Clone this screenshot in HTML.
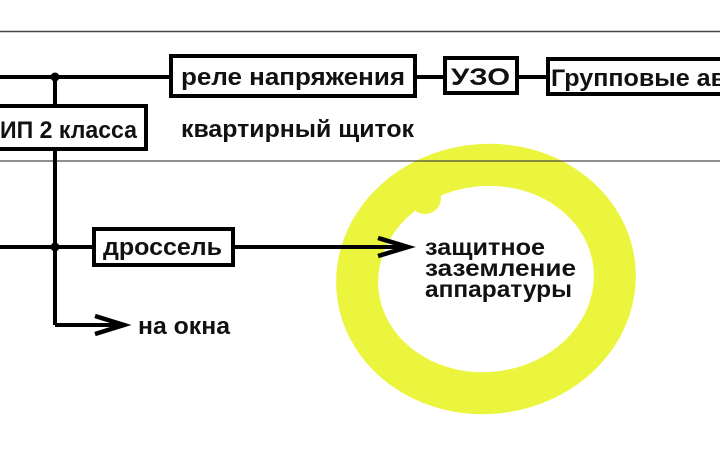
<!DOCTYPE html>
<html><head><meta charset="utf-8"><style>
html,body{margin:0;padding:0;background:#fff;}
svg{display:block}
text{font-family:"Liberation Sans",sans-serif;font-weight:bold;fill:#111;}
</style></head><body>
<svg width="720" height="456" viewBox="0 0 720 456" xmlns="http://www.w3.org/2000/svg">
<rect width="720" height="456" fill="#fff"/>
<line x1="0" y1="31.5" x2="720" y2="31.5" stroke="#444" stroke-width="1.5"/>
<ellipse cx="486" cy="279" rx="129" ry="114" fill="none" stroke="#ecf53e" stroke-width="42" transform="rotate(-6 486 279)"/>
<circle cx="425" cy="198" r="16" fill="#ecf53e"/>
<line x1="0" y1="161" x2="720" y2="161" stroke="#444" stroke-width="1.5" opacity="0.8"/>
<g stroke="#000" stroke-width="4" fill="none">
<line x1="0" y1="77" x2="170" y2="77"/>
<line x1="55" y1="77" x2="55" y2="106"/>
<line x1="55" y1="149" x2="55" y2="325"/>
<line x1="55" y1="325" x2="125" y2="325"/>
<line x1="0" y1="247" x2="93" y2="247"/>
<line x1="233" y1="247" x2="405" y2="247"/>
<line x1="415" y1="77" x2="444" y2="77"/>
<line x1="517" y1="77" x2="546" y2="77"/>
<rect x="171" y="56" width="244" height="40"/>
<rect x="445" y="58" width="72" height="35"/>
<rect x="548" y="59" width="180" height="35"/>
<rect x="-5" y="106" width="151" height="43"/>
<rect x="94" y="229" width="139" height="36"/>
<polyline points="378,238 408,247 378,256" stroke-width="4.5"/>
<polyline points="95,316 124,325 95,334" stroke-width="4.5"/>
</g>
<circle cx="55" cy="77" r="4.5" fill="#000"/>
<circle cx="55" cy="247" r="4.5" fill="#000"/>
<g font-size="24">
<text x="181" y="85" textLength="224" lengthAdjust="spacingAndGlyphs">реле напряжения</text>
<text x="451" y="85" textLength="59" lengthAdjust="spacingAndGlyphs">УЗО</text>
<text x="551" y="86" textLength="175" lengthAdjust="spacingAndGlyphs">Групповые ав</text>
<text x="0" y="138" textLength="137" lengthAdjust="spacingAndGlyphs">ИП 2 класса</text>
<text x="181" y="137" textLength="233" lengthAdjust="spacingAndGlyphs">квартирный щиток</text>
<text x="103" y="255" textLength="119" lengthAdjust="spacingAndGlyphs">дроссель</text>
<text x="138" y="334" textLength="92" lengthAdjust="spacingAndGlyphs">на окна</text>
</g>
<g font-size="23">
<text x="425" y="255" textLength="120" lengthAdjust="spacingAndGlyphs">защитное</text>
<text x="425" y="276" textLength="151" lengthAdjust="spacingAndGlyphs">заземление</text>
<text x="425" y="297" textLength="147" lengthAdjust="spacingAndGlyphs">аппаратуры</text>
</g>
</svg>
</body></html>
